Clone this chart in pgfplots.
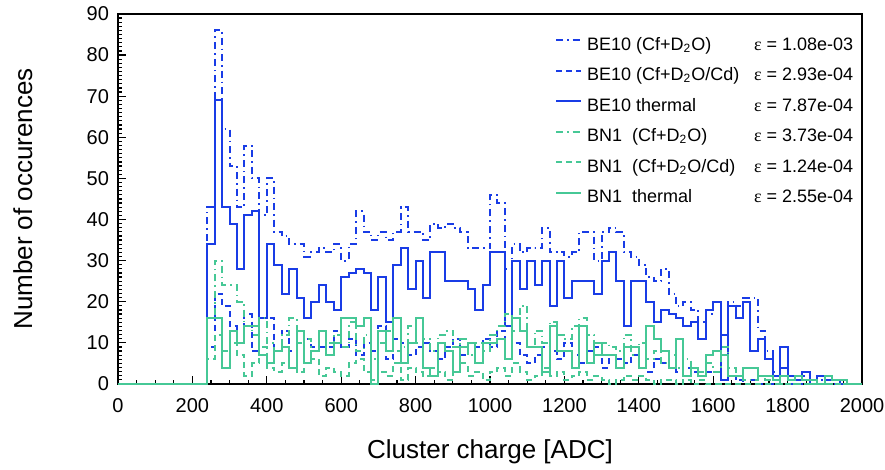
\documentclass[border=0pt]{standalone}
\usepackage{pgfplots}
\pgfplotsset{compat=1.18}
\usepackage{pgfplotstable}
\usepackage{fontspec}
\setmainfont{Liberation Sans}
\newfontfamily\serif{Liberation Serif}

\definecolor{beblue}{RGB}{25,60,230}
\definecolor{bngreen}{RGB}{70,200,150}

% bins of 20 ADC, left edges; A/T/D = BE10 Cf+D2O / thermal / Cf+D2O/Cd, a/t/d = BN1
\pgfplotstableread{
x A T D a t d
0 0 0 0 0 0 0
240 43 34 9 16 16 6
260 86 69 22 30 16 12
280 62 43 19 24 4 8
300 53 39 14 24 13 10
320 43 28 10 20 10 7
340 58 41 17 14 14 2
360 50 42 8 12 14 5
380 41 16 16 16 7 9
400 50 34 16 10 5 4
420 37 29 8 8 8 3
440 36 22 13 12 9 5
460 34 28 8 16 4 4
480 34 21 13 10 13 3
500 31 16 11 11 5 5
520 32 20 9 8 8 6
540 33 24 9 13 13 2
560 32 20 9 10 7 4
580 34 18 13 12 10 3
600 30 26 9 9 16 2
620 34 27 11 15 16 5
640 42 28 7 8 14 6
660 37 27 10 12 16 3
680 35 18 8 6 0 1
700 37 26 14 10 13 3
720 35 15 6 13 8 2
740 37 29 11 8 16 5
760 43 33 10 9 5 1
780 37 23 7 14 10 4
800 37 30 9 10 16 3
820 35 21 10 11 4 2
840 39 32 8 8 2 4
860 38 32 6 12 10 3
880 39 25 9 13 8 1
900 38 25 11 9 3 3
920 37 25 7 11 9 5
940 33 23 10 7 10 2
960 33 18 9 10 5 3
980 33 24 11 8 10 1
1000 46 32 9 12 10 3
1020 44 32 13 14 11 4
1040 28 14 6 17 6 2
1060 34 30 10 13 16 5
1080 32 23 7 19 13 3
1100 33 30 5 9 9 1
1120 33 24 7 13 9 2
1140 38 30 9 10 3 4
1160 32 19 8 15 14 2
1180 32 30 6 12 8 3
1200 31 21 10 11 8 1
1220 32 25 7 14 4 2
1240 37 25 5 16 14 3
1260 37 25 8 12 5 1
1280 30 22 9 7 10 2
1300 37 30 4 10 7 1
1320 38 32 7 9 7 0
1340 37 25 6 8 4 1
1360 32 14 5 12 9 2
1380 31 25 7 7 9 1
1400 29 25 4 10 4 2
1420 26 20 3 6 14 1
1440 25 15 6 8 11 0
1460 28 18 5 5 8 1
1480 22 17 4 7 4 1
1500 19 16 3 4 11 0
1520 20 14 4 6 2 1
1540 18 15 3 4 4 0
1560 15 11 2 3 2 1
1580 17 18 3 5 7 0
1600 20 20 3 3 8 0
1620 12 1 1 9 7 0
1640 20 19 2 4 2 0
1660 19 16 1 2 2 0
1680 21 20 0 1 4 0
1700 21 8 1 1 4 0
1720 13 11 0 2 2 0
1740 8 6 0 1 2 0
1760 3 2 0 1 1 0
1780 4 9 0 0 2 0
1800 2 2 0 0 1 0
1820 1 1 0 0 2 0
1840 2 3 0 0 1 0
1860 1 0 0 0 1 0
1880 1 2 0 0 0 0
1900 1 1 0 0 2 0
1920 0 1 0 0 1 0
1940 1 0 0 0 1 0
1960 0 0 0 0 0 0
1980 0 0 0 0 0 0
2000 0 0 0 0 0 0
}\hist

\tikzset{
  histdashdot/.style={dash pattern=on 3.5pt off 2pt on 0.8pt off 2pt},
  histdashed/.style={dash pattern=on 3pt off 2pt},
}
\newcommand{\lab}[1]{\makebox[83.5pt][l]{#1}}
\newcommand{\eps}{{\serif ε}}

\begin{document}
\begin{tikzpicture}
\begin{axis}[
  scale only axis,
  width=372pt, height=185pt,
  xmin=0, xmax=2000, ymin=0, ymax=90,
  xtick={0,200,...,2000}, ytick={0,10,...,90},
  minor x tick num=3, minor y tick num=9,
  tick align=inside, xtick pos=bottom, ytick pos=left,
  major tick length=4pt, minor tick length=2pt,
  axis line style={line width=0.8pt},
  every tick/.style={black, line width=0.6pt},
  tick label style={font=\fontsize{10}{12}\selectfont, overlay},
  xticklabel style={yshift=-3.5pt},
  yticklabel style={xshift=-1pt},
  /pgf/number format/assume math mode=true,
  /pgf/number format/1000 sep={},
  xlabel={Cluster charge [ADC]},
  ylabel={Number of occurences},
  label style={font=\fontsize{13}{15}\selectfont, overlay},
  xlabel style={at={(rel axis cs:0.5,-0.184)}, anchor=center},
  ylabel style={at={(rel axis cs:-0.128,0.5)}, anchor=center},
  clip=false,
  legend cell align=left,
  legend style={draw=none, fill=none, at={(rel axis cs:0.587,0.938)}, anchor=north west,
    font=\fontsize{9}{10}\selectfont, inner sep=0pt, row sep=6.75pt, column sep=2.5pt,
    nodes={inner sep=0pt, text height=6.5pt, text depth=2pt}},
  legend image code/.code={\draw[#1] (0pt,2.8pt) -- (12.5pt,2.8pt);},
  every axis plot/.append style={const plot mark left, line width=1pt},
]
\addplot[beblue, histdashdot] table[x=x, y=A] {\hist};
\addlegendentry{\lab{BE10 (Cf+D\textsubscript{2}O)}\eps{} = 1.08e-03}
\addplot[beblue, histdashed] table[x=x, y=D] {\hist};
\addlegendentry{\lab{BE10 (Cf+D\textsubscript{2}O/Cd)}\eps{} = 2.93e-04}
\addplot[beblue] table[x=x, y=T] {\hist};
\addlegendentry{\lab{BE10 thermal}\eps{} = 7.87e-04}
\addplot[bngreen, histdashdot] table[x=x, y=a] {\hist};
\addlegendentry{\lab{BN1\ \ (Cf+D\textsubscript{2}O)}\eps{} = 3.73e-04}
\addplot[bngreen, histdashed] table[x=x, y=d] {\hist};
\addlegendentry{\lab{BN1\ \ (Cf+D\textsubscript{2}O/Cd)}\eps{} = 1.24e-04}
\addplot[bngreen] table[x=x, y=t] {\hist};
\addlegendentry{\lab{BN1\ \ thermal}\eps{} = 2.55e-04}
\path (rel axis cs:-0.1586,-0.2324) rectangle (rel axis cs:1.0309,1.0378);
\end{axis}
\end{tikzpicture}
\end{document}
